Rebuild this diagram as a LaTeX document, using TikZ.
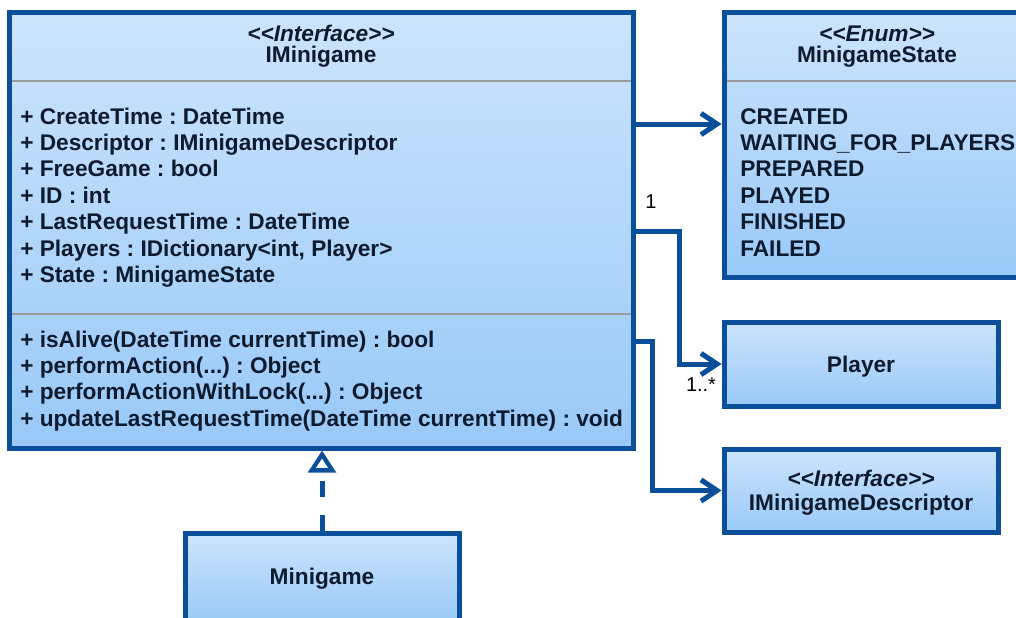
\documentclass[tikz,border=0pt]{standalone}
\usepackage{fontspec}
\setmainfont{Liberation Sans}
\usetikzlibrary{arrows.meta}
\definecolor{umlborder}{HTML}{0B4F9B}
\definecolor{umltop}{HTML}{CCE4FC}
\definecolor{umlbot}{HTML}{99C9F8}
\definecolor{umltext}{HTML}{0E1A2E}
\definecolor{umlsep}{HTML}{9A9A9A}
% guillemet-free stereotype brackets
\newcommand{\stl}{<\kern0pt<}
\newcommand{\str}{>\kern0pt>}
\begin{document}
\frenchspacing
\begin{tikzpicture}[x=0.75pt,y=-0.75pt,
  umlbox/.style={draw=umlborder, line width=3.75pt, top color=umltop, bottom color=umlbot, inner sep=0pt},
  member/.style={anchor=base west, inner sep=0pt, font=\bfseries\fontsize{17}{19}\selectfont, text=umltext},
  title/.style={anchor=base, inner sep=0pt, font=\bfseries\fontsize{17}{19}\selectfont, text=umltext},
  stereo/.style={anchor=base, inner sep=0pt, font=\bfseries\itshape\fontsize{17}{19}\selectfont, text=umltext},
  mult/.style={inner sep=0pt, font=\fontsize{15}{17}\selectfont, text=black},
  compsep/.style={draw=umlsep, line width=1.5pt},
  assoc/.style={draw=umlborder, line width=3.75pt, -{Straight Barb[length=12pt, width=16pt]}},
  realize/.style={draw=umlborder, line width=3.75pt, dash pattern=on 12pt off 13pt,
    -{Triangle[open, fill=white, length=16.5pt, width=20.5pt, line width=3.2pt]}}
]
\useasboundingbox (0,0) rectangle (1016,617);
\clip (0,0) rectangle (1016,617);
\fill[white] (0,0) rectangle (1016,617);

% class boxes
\node[umlbox, minimum width=468pt, minimum height=326.25pt] (imini) at (321,230.5) {};
\node[umlbox, minimum width=229.5pt, minimum height=198pt] (state) at (877,145) {};
\node[umlbox, minimum width=205.5pt, minimum height=63pt] (player) at (861,364) {};
\node[umlbox, minimum width=205.5pt, minimum height=62.25pt] (descr) at (861,490.5) {};
\node[umlbox, minimum width=205.5pt, minimum height=66.75pt] (mini) at (322,577.5) {};

% compartment separators
\draw[compsep] (11.5,81) -- (630.5,81);
\draw[compsep] (11.5,314) -- (630.5,314);
\draw[compsep] (726.5,81) -- (1030,81);

% IMinigame
\node[stereo] (imini-st) at (321,42) {\stl Interface\str};
\node[title] (imini-nm) at (321,63) {IMinigame};
\node[member] (a1) at (20,124) {+ CreateTime : DateTime};
\node[member] (a2) at (20,150.4) {+ Descriptor : IMinigameDescriptor};
\node[member] (a3) at (20,176.8) {+ FreeGame : bool};
\node[member] (a4) at (20,203.2) {+ ID : int};
\node[member] (a5) at (20,229.6) {+ LastRequestTime : DateTime};
\node[member] (a6) at (20,256) {+ Players : IDictionary<int, Player>};
\node[member] (a7) at (20,282.4) {+ State : MinigameState};
\node[member] (m1) at (20,347) {+ isAlive(DateTime currentTime) : bool};
\node[member] (m2) at (20,373.4) {+ performAction(...) : Object};
\node[member] (m3) at (20,399.8) {+ performActionWithLock(...) : Object};
\node[member] (m4) at (20,426.2) {+ updateLastRequestTime(DateTime currentTime) : void};

% MinigameState
\node[stereo] (state-st) at (877,42) {\stl Enum\str};
\node[title] (state-nm) at (877,63) {MinigameState};
\node[member] (e1) at (740,124) {CREATED};
\node[member] (e2) at (740,150.4) {WAITING\_FOR\_PLAYERS};
\node[member] (e3) at (740,176.8) {PREPARED};
\node[member] (e4) at (740,203.2) {PLAYED};
\node[member] (e5) at (740,229.6) {FINISHED};
\node[member] (e6) at (740,256) {FAILED};

% Player, IMinigameDescriptor, Minigame
\node[title] (player-nm) at (861,372) {Player};
\node[stereo] (descr-st) at (861,486) {\stl Interface\str};
\node[title] (descr-nm) at (861,510) {IMinigameDescriptor};
\node[title] (mini-nm) at (322,584) {Minigame};

% relations
\draw[assoc] (imini.east |- 0,124) -- (state.west |- 0,124);
\draw[assoc] (imini.east |- 0,231) -| (679,364) -- (player.west);
\draw[assoc] (imini.east |- 0,341) -| (652,490.5) -- (descr.west);
\draw[realize] (mini.north) -- (mini.north |- imini.south);

% multiplicities
\node[mult] (mul-one) at (651,202) {1};
\node[mult] (mul-many) at (701,385) {1..*};
\end{tikzpicture}
\end{document}
